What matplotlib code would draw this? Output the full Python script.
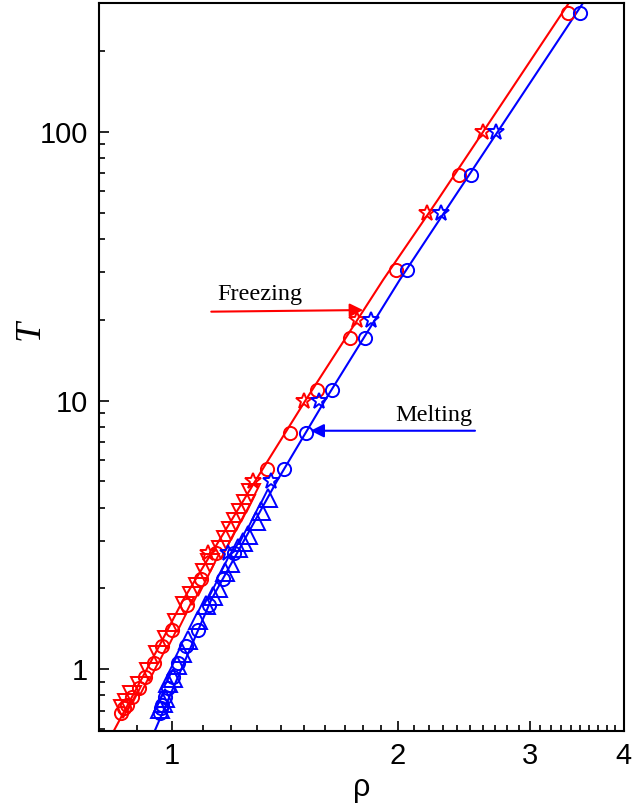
import matplotlib.pyplot as plt
from matplotlib.ticker import FixedLocator, NullFormatter, FuncFormatter
import numpy as np

# freezing line (red)
frz_rho = [0.838, 0.959, 1.036, 1.295, 1.507, 1.913, 2.262, 3.38]
frz_T = [0.594, 1.2, 1.816, 5.07, 10, 28.1, 55.7, 300]
# melting line (blue)
mlt_rho = [0.950, 1.129, 1.380, 1.600, 2.013, 2.367, 3.53]
mlt_T = [0.594, 1.816, 5.0, 10, 28.1, 55.7, 300]

# circles
circ_T = [0.69, 0.72, 0.74, 0.79, 0.85, 0.94, 1.06, 1.22, 1.40, 1.74, 2.17, 2.72,
          5.57, 7.59, 10.96, 17.1, 30.6, 69, 275]
circ_rho_f = [0.855, 0.863, 0.872, 0.886, 0.904, 0.922, 0.946, 0.970, 1.0, 1.047, 1.095, 1.147,
              1.339, 1.436, 1.564, 1.729, 1.988, 2.416, 3.376]
circ_rho_m = [0.965, 0.968, 0.972, 0.979, 0.99, 1.003, 1.02, 1.045, 1.083, 1.12, 1.17, 1.21,
              1.410, 1.508, 1.635, 1.810, 2.056, 2.506, 3.502]

# stars
star_T = [2.72, 5, 10, 20, 50, 100]
star_rho_f = [1.118, 1.283, 1.50, 1.766, 2.192, 2.599]
star_rho_m = [1.188, 1.356, 1.573, 1.841, 2.288, 2.704]

# triangles
tri_T_f = [0.71, 0.75, 0.80, 0.87, 0.98, 1.13, 1.29, 1.49, 1.72, 1.87, 2.03, 2.28, 2.49,
           2.79, 3.03, 3.26, 3.52, 3.81, 4.13, 4.53]
tri_rho_f = [0.862, 0.872, 0.885, 0.907, 0.932, 0.960, 0.985, 1.015, 1.04, 1.063, 1.085, 1.107, 1.124,
             1.164, 1.182, 1.200, 1.218, 1.237, 1.256, 1.276]
tri_T_m = [0.71, 0.75, 0.785, 0.89, 0.93, 1.04, 1.15, 1.29, 1.53, 1.74, 1.87, 2.01, 2.31, 2.49,
           2.83, 2.99, 3.17, 3.55, 3.87, 4.33]
tri_rho_m = [0.965, 0.975, 0.979, 0.990, 1.005, 1.015, 1.031, 1.052, 1.085, 1.112, 1.135, 1.152, 1.176, 1.194,
             1.225, 1.244, 1.263, 1.295, 1.315, 1.342]

fig = plt.figure(figsize=(6.33, 8.11), dpi=100)
ax = fig.add_axes([0.1564, 0.0986, 0.8286, 0.8973])

red, blue = '#ff0000', '#0000ff'
ax.plot(frz_rho, frz_T, color=red, lw=1.5)
ax.plot(mlt_rho, mlt_T, color=blue, lw=1.5)

mk = dict(ls='none', mfc='none', mew=1.4)
ax.plot(tri_rho_f, tri_T_f, marker='v', ms=12.5, mec=red, **mk)
ax.plot(tri_rho_m, tri_T_m, marker='^', ms=12.5, mec=blue, **mk)
ax.plot(circ_rho_f, circ_T, marker='o', ms=9.5, mec=red, **mk)
ax.plot(circ_rho_m, circ_T, marker='o', ms=9.5, mec=blue, **mk)
ax.plot(star_rho_f, star_T, marker='*', ms=12, mec=red, **mk)
ax.plot(star_rho_m, star_T, marker='*', ms=12, mec=blue, **mk)

ax.set_xscale('log')
ax.set_yscale('log')
ax.set_xlim(0.8, 4.0)
ax.set_ylim(0.59, 300)

ax.xaxis.set_major_locator(FixedLocator([1, 2, 3, 4]))
ax.xaxis.set_minor_locator(FixedLocator(list(np.arange(0.8, 1.0, 0.1)) + list(np.arange(1.1, 4.0, 0.1))))
ax.xaxis.set_major_formatter(FuncFormatter(lambda v, p: f"{v:g}"))
ax.xaxis.set_minor_formatter(NullFormatter())
ax.yaxis.set_major_formatter(FuncFormatter(lambda v, p: f"{v:g}"))
ax.yaxis.set_minor_formatter(NullFormatter())

ax.tick_params(which='both', direction='in', top=False, right=False, width=1.2)
ax.tick_params(which='major', length=7, labelsize=21, pad=8)
ax.tick_params(which='minor', length=4.3)
for lab in ax.get_xticklabels() + ax.get_yticklabels():
    lab.set_family('Liberation Sans')
for s in ax.spines.values():
    s.set_linewidth(1.5)

ax.set_xlabel('ρ', fontsize=22, family='Liberation Sans', labelpad=2)
ax.set_ylabel('T', fontsize=26, family='Liberation Serif', style='italic')
ax.yaxis.set_label_coords(-0.10, 0.551)

ap = dict(arrowstyle='-|>', mutation_scale=20, lw=1.5, shrinkA=0, shrinkB=0)
ax.annotate('', xy=(1.799, 21.7), xytext=(1.129, 21.4), arrowprops=dict(color=red, **ap))
ax.text(1.15, 23.7, 'Freezing', fontsize=17.5, family='Liberation Serif', va='baseline')
ax.annotate('', xy=(1.531, 7.72), xytext=(2.536, 7.72), arrowprops=dict(color=blue, **ap))
ax.text(1.983, 8.41, 'Melting', fontsize=17.5, family='Liberation Serif', va='baseline')

fig.savefig('out.png', dpi=100)
